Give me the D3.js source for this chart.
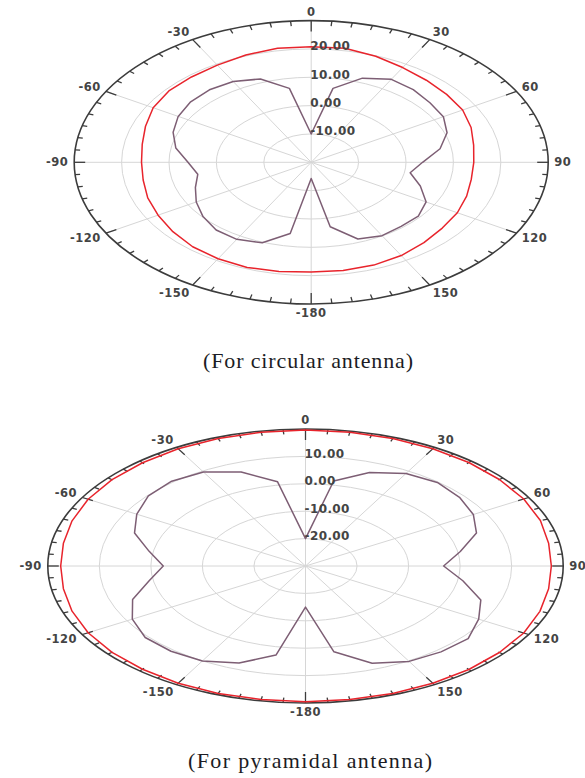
<!DOCTYPE html>
<html>
<head>
<meta charset="utf-8">
<script src="https://cdn.jsdelivr.net/npm/d3@7"></script>
<style>
  html, body { margin: 0; padding: 0; background: #fff; }
  svg { display: block; }
</style>
</head>
<body>
<svg id="chart" width="585" height="778"></svg>
<script>
// Azimuth angles (degrees, clockwise from the top)
const angles = [-180,-170,-160,-150,-140,-130,-120,-110,-100,-90,-80,-70,-60,-50,-40,-30,-20,-10,
                0,10,20,30,40,50,60,70,80,90,100,110,120,130,140,150,160,170];

// Circular antenna: gain patterns (dB)
const circularRed = [18.7,19.1,19.5,19.3,18.9,18.1,17.3,16.7,16.0,15.8,16.2,17.2,18.5,19.2,19.3,19.6,20.3,20.9,
                     20.8,20.9,19.8,18.6,17.8,17.3,16.9,15.9,14.8,14.3,14.3,14.9,15.6,16.1,17.0,18.0,18.6,18.8];
const circularPurple = [-14.3,5.5,10.2,11.4,11.2,9.8,8.0,6.0,4.3,6.0,9.0,11.0,12.4,13.2,13.4,12.9,11.3,6.5,
                        -10.0,6.5,11.6,13.8,13.5,12.7,12.2,10.5,7.6,3.5,1.2,4.5,8.0,9.5,9.5,9.9,8.8,3.1];

// Pyramidal antenna: gain patterns (dB)
const pyramidalRed = [19.5,19.5,19.5,19.4,19.2,19.0,18.7,18.2,17.7,17.5,17.7,18.2,18.7,19.0,19.2,19.4,19.5,19.6,
                      19.6,19.6,19.5,19.4,19.3,19.1,18.9,18.5,17.9,17.7,17.9,18.4,18.9,19.1,19.3,19.4,19.5,19.5];
const pyramidalPurple = [-15.0,3.0,7.7,10.0,10.6,10.6,8.8,5.7,0.8,-2.4,0.8,5.3,7.8,9.8,10.4,9.6,6.5,1.2,
                         -20.0,1.5,6.3,9.0,9.8,9.0,7.6,5.3,0.5,-3.2,1.0,6.2,8.8,11.2,10.9,10.2,7.8,1.8];

// Angular axis labels
const spokeAngles = [0,30,60,90,120,150,180,210,240,270,300,330];
const spokeLabels = ["0","30","60","90","120","150","-180","-150","-120","-90","-60","-30"];

// Radial ring values and labels
const circularRings = [-10, 0, 10, 20];
const circularRingLabels = ["-10.00","0.00","10.00","20.00"];
const pyramidalRings = [-20, -10, 0, 10];
const pyramidalRingLabels = ["-20.00","-10.00","0.00","10.00"];

const captions = ["(For circular antenna)", "(For pyramidal antenna)"];

const svg = d3.select("#chart");
const rad = d => d * Math.PI / 180;

function drawPolar(cfg) {
  const g = svg.append("g");
  const r = d3.scaleLinear().domain(cfg.domain).range([0, 1]);
  const px = (a, v) => cfg.cx + cfg.rx * r(v) * Math.sin(rad(a));
  const py = (a, v) => cfg.cy - cfg.ry * r(v) * Math.cos(rad(a));
  const vmax = cfg.domain[1];

  // grid rings
  g.selectAll("ellipse.ring").data(cfg.rings).join("ellipse")
    .attr("cx", cfg.cx).attr("cy", cfg.cy)
    .attr("rx", d => cfg.rx * r(d)).attr("ry", d => cfg.ry * r(d))
    .attr("fill", "none").attr("stroke", "#d6d6d6").attr("stroke-width", 1);

  // spokes
  g.selectAll("line.spoke").data(spokeAngles).join("line")
    .attr("x1", cfg.cx).attr("y1", cfg.cy)
    .attr("x2", d => px(d, vmax)).attr("y2", d => py(d, vmax))
    .attr("stroke", "#d6d6d6").attr("stroke-width", 1);

  // outer boundary
  g.append("ellipse")
    .attr("cx", cfg.cx).attr("cy", cfg.cy).attr("rx", cfg.rx).attr("ry", cfg.ry)
    .attr("fill", "none").attr("stroke", "#3c3c3c").attr("stroke-width", 1.6);

  // ticks every 5 degrees, longer every 30
  const tickAngles = d3.range(0, 360, 5);
  g.selectAll("line.tick").data(tickAngles).join("line")
    .each(function(a) {
      const x0 = px(a, vmax), y0 = py(a, vmax);
      const dx = x0 - cfg.cx, dy = y0 - cfg.cy;
      const len = Math.hypot(dx, dy);
      const L = a % 30 === 0 ? 11 : 5;
      d3.select(this)
        .attr("x1", x0).attr("y1", y0)
        .attr("x2", x0 - dx / len * L).attr("y2", y0 - dy / len * L);
    })
    .attr("stroke", "#3c3c3c").attr("stroke-width", 1.3);

  // angle labels
  g.selectAll("text.ang").data(spokeAngles).join("text")
    .attr("x", a => cfg.cx + (cfg.rx + 6) * Math.sin(rad(a)))
    .attr("y", a => cfg.cy - (cfg.ry + 9) * Math.cos(rad(a)))
    .attr("text-anchor", a => {
      const s = Math.sin(rad(a));
      return s > 0.01 ? "start" : (s < -0.01 ? "end" : "middle");
    })
    .attr("dominant-baseline", "central")
    .attr("font-family", "DejaVu Sans, sans-serif")
    .attr("font-weight", "bold").attr("font-size", 11.5).attr("letter-spacing", 0.5)
    .attr("fill", "#444")
    .text((a, i) => spokeLabels[i]);

  // data curves
  const line = d3.line()
    .x((d, i) => px(angles[i], d))
    .y((d, i) => py(angles[i], d))
    .curve(d3.curveLinearClosed);

  cfg.series.forEach(s => {
    g.append("path")
      .attr("d", line(s.values))
      .attr("fill", "none").attr("stroke", s.color).attr("stroke-width", s.width)
      .attr("stroke-linejoin", "round");
  });

  // ring value labels along the zero-degree axis
  g.selectAll("text.ringlab").data(cfg.rings).join("text")
    .attr("x", cfg.cx - 1)
    .attr("y", d => cfg.cy - cfg.ry * r(d) - 2.5)
    .attr("dominant-baseline", "central")
    .attr("font-family", "DejaVu Sans, sans-serif")
    .attr("font-weight", "bold").attr("font-size", 12).attr("letter-spacing", 0.4)
    .attr("fill", "#444")
    .text((d, i) => cfg.ringLabels[i]);

  // caption
  svg.append("text")
    .attr("x", cfg.capX).attr("y", cfg.capY)
    .attr("text-anchor", "middle")
    .attr("font-family", "Liberation Serif, Times New Roman, serif")
    .attr("font-size", 22)
    .attr("textLength", cfg.capLen).attr("lengthAdjust", "spacing")
    .attr("fill", "#1c1c24")
    .text(cfg.caption);
}

drawPolar({
  cx: 311.2, cy: 162.3, rx: 237, ry: 141.7,
  domain: [-20, 30],
  rings: circularRings, ringLabels: circularRingLabels,
  series: [
    { values: circularRed, color: "#e8242c", width: 1.5 },
    { values: circularPurple, color: "#7d5e74", width: 1.5 }
  ],
  caption: captions[0], capX: 308, capY: 368, capLen: 210
});

drawPolar({
  cx: 305.5, cy: 566, rx: 257.7, ry: 137,
  domain: [-30, 20],
  rings: pyramidalRings, ringLabels: pyramidalRingLabels,
  series: [
    { values: pyramidalRed, color: "#e8242c", width: 1.5 },
    { values: pyramidalPurple, color: "#7d5e74", width: 1.5 }
  ],
  caption: captions[1], capX: 310, capY: 768, capLen: 244
});
</script>
</body>
</html>
